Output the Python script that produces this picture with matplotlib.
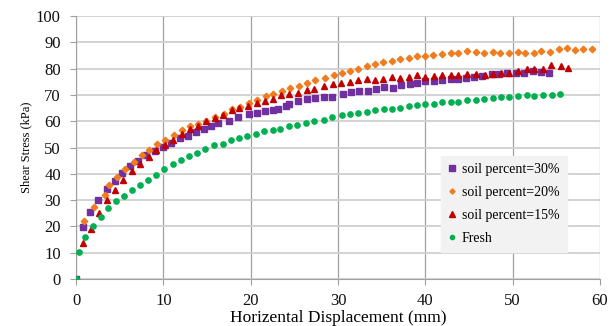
import matplotlib
matplotlib.use("Agg")
import matplotlib.pyplot as plt

plt.rcParams['font.family'] = ['Liberation Serif', 'DejaVu Serif']

# soil percent = 30%
x30 = [0, 0.8, 1.57, 2.49, 3.49, 4.41, 5.21, 6.21, 7.09, 8.05, 9.08, 9.96, 10.9, 11.9, 12.8, 13.7,
       14.7, 15.4, 16.3, 17.5, 18.5, 19.8, 20.7, 21.6, 22.5, 23.1, 24.0, 24.4, 25.4, 26.4, 27.4, 28.4, 29.3,
       30.6, 31.5, 32.4, 33.4, 34.3, 35.3, 36.3, 37.2, 38.2, 39.1, 40.0, 41.0, 41.9, 42.9, 43.8, 44.7,
       45.6, 46.5, 47.6, 48.4, 49.4, 50.4, 51.3, 52.3, 53.3, 54.2]
y30 = [0, 19.6, 25.3, 30.1, 34.2, 37.1, 40.2, 42.8, 45.0, 47.0, 48.8, 50.2, 51.8, 53.6, 54.5, 55.9,
       57.2, 58.3, 59.3, 60.2, 61.6, 62.7, 63.3, 64.0, 64.1, 64.5, 65.6, 66.6, 67.6, 68.4, 68.7, 69.2, 69.3,
       70.3, 71.1, 71.3, 71.6, 72.2, 73.1, 72.8, 73.7, 74.0, 74.5, 75.2, 75.1, 75.7, 76.0, 76.1, 76.5,
       76.8, 77.0, 77.9, 77.8, 78.3, 78.4, 78.5, 79.0, 78.7, 78.5]

# soil percent = 20%
x20 = [0, 0.93, 2.1, 3.3, 3.8, 4.7, 5.6, 6.6, 7.55, 8.4, 9.3, 10.2, 11.2, 12.1, 13.1, 14.0,
       14.9, 15.9, 16.9, 17.9, 18.8, 19.8, 20.7, 21.7, 22.6, 23.6, 24.5, 25.5, 26.4, 27.4, 28.5,
       29.5, 30.5, 31.4, 32.3, 33.3, 34.2, 35.2, 36.2, 37.1, 38.1, 39.1, 40.0, 40.9, 41.9, 42.9, 43.8, 44.8,
       45.8, 46.7, 47.7, 48.6, 49.6, 50.6, 51.4, 52.5, 53.3, 54.3, 55.3, 56.2, 57.2, 58.1, 59.1]
y20 = [0, 22.0, 27.2, 31.8, 35.7, 38.9, 41.8, 44.5, 47.0, 49.0, 51.3, 53.0, 54.9, 56.5, 58.1, 59.1,
       60.0, 61.5, 62.8, 64.7, 65.3, 66.9, 67.9, 69.4, 70.3, 71.4, 72.5, 73.5, 74.6, 75.6, 76.5,
       77.6, 78.3, 79.2, 79.9, 80.9, 81.6, 82.5, 82.8, 83.5, 84.1, 84.6, 84.6, 85.0, 85.4, 85.9, 86.1, 86.5,
       86.4, 86.0, 86.3, 85.8, 86.0, 86.4, 86.1, 86.0, 86.5, 86.3, 87.5, 87.9, 87.1, 87.5, 87.5]

# soil percent = 15%
x15 = [0, 0.77, 1.65, 2.57, 3.56, 4.48, 5.4, 6.4, 7.3, 8.3, 9.2, 10.15, 11.1, 12.1, 13.1, 14.0,
       14.9, 15.9, 16.8, 17.8, 18.7, 19.7, 20.7, 21.6, 22.6, 23.5, 24.4, 25.4, 26.4, 27.3, 28.4,
       29.4, 30.4, 31.4, 32.3, 33.3, 34.2, 35.2, 36.2, 37.1, 38.1, 39.1, 40.0, 41.0, 41.9, 42.9, 43.8, 44.8,
       45.8, 46.8, 47.7, 48.7, 49.6, 50.6, 51.6, 52.5, 53.5, 54.4, 55.5, 56.4]
y15 = [0, 13.6, 18.9, 25.0, 30.0, 33.9, 37.5, 40.9, 43.7, 46.3, 48.9, 50.8, 53.0, 55.1, 56.9, 58.3,
       59.9, 61.2, 62.4, 64.2, 65.1, 65.9, 67.0, 67.6, 68.5, 69.8, 70.2, 70.7, 71.7, 72.3, 73.2,
       74.0, 74.6, 75.0, 75.5, 76.1, 75.5, 75.9, 76.9, 76.6, 76.8, 77.6, 76.8, 77.3, 77.6, 77.4, 77.6, 78.0,
       77.9, 77.6, 78.0, 78.3, 78.5, 78.9, 79.7, 79.7, 79.8, 81.4, 80.8, 80.2]

# Fresh
xf = [0, 0.38, 1.07, 1.92, 2.8, 3.64, 4.52, 5.52, 6.44, 7.36, 8.28, 9.2, 10.1, 11.07, 12.0, 12.95, 13.9,
      14.8, 15.8, 16.8, 17.7, 18.7, 19.6, 20.6, 21.5, 22.5, 23.4, 24.4, 25.3, 26.3, 27.2, 28.35, 29.3,
      30.5, 31.4, 32.3, 33.3, 34.2, 35.3, 36.2, 37.1, 38.1, 39.0, 40.0, 41.0, 41.9, 42.9, 43.8, 44.8,
      45.8, 46.7, 47.7, 48.7, 49.6, 50.6, 51.6, 52.5, 53.5, 54.5, 55.4]
yf = [0, 10.4, 15.9, 20.2, 23.6, 26.9, 29.5, 31.6, 33.8, 35.7, 37.5, 39.6, 41.7, 43.7, 45.1, 46.6, 48.0,
      49.3, 50.8, 51.3, 52.9, 53.8, 54.3, 55.1, 56.1, 56.6, 57.2, 58.1, 58.5, 59.5, 60.0, 60.5, 61.6,
      62.2, 62.6, 63.2, 63.4, 64.1, 64.6, 64.6, 65.2, 65.6, 66.0, 66.7, 66.7, 67.4, 67.4, 67.4, 68.1,
      68.0, 68.5, 68.8, 69.2, 69.2, 69.4, 69.8, 69.4, 70.0, 70.0, 70.2]

fig = plt.figure(figsize=(6.14, 3.26), dpi=100)
ax = fig.add_axes([0.124, 0.144, 0.853, 0.807])

ax.plot(x30, y30, 's', color='#7030A0', markersize=4.8, label='soil percent=30%', zorder=3)
ax.plot(x20, y20, 'D', color='#F07C1E', markersize=3.3, label='soil percent=20%', zorder=4)
ax.plot(x15, y15, '^', color='#C00000', markersize=4.8, label='soil percent=15%', zorder=5)
ax.plot(xf, yf, 'o', color='#00B050', markersize=3.8, label='Fresh', zorder=6)

ax.set_xlim(0, 60)
ax.set_ylim(0, 100)
ax.set_xticks(range(0, 61, 10))
ax.set_yticks(range(0, 101, 10))
ax.yaxis.grid(True, color='#D0D0D0', linewidth=1.3)
ax.xaxis.grid(True, color='#A0A0A0', linewidth=0.9)
ax.set_axisbelow(True)
for s in ['top', 'right']:
    ax.spines[s].set_visible(False)
ax.spines['left'].set_color('#A0A0A0')
ax.spines['bottom'].set_color('#A0A0A0')
ax.tick_params(axis='both', colors='#A0A0A0', labelcolor='#111111', labelsize=12, length=4)
ax.tick_params(axis='x', pad=6)
ax.tick_params(axis='y', pad=7)

ax.set_xlabel('Horizental Displacement (mm)', fontsize=12.5, labelpad=1)
ax.set_ylabel('Shear Stress (kPa)', fontsize=9, labelpad=3)

leg = ax.legend(loc='upper left', bbox_to_anchor=(0.697, 0.468), fontsize=10,
                frameon=True, fancybox=False, handlelength=0.6, handletextpad=0.4,
                labelspacing=0.72, borderpad=0.5, borderaxespad=0, markerscale=0.8)
leg.get_frame().set_facecolor('#F2F2F2')
leg.get_frame().set_edgecolor('#F2F2F2')
leg.get_frame().set_alpha(1)

fig.savefig('out.png', dpi=100)
